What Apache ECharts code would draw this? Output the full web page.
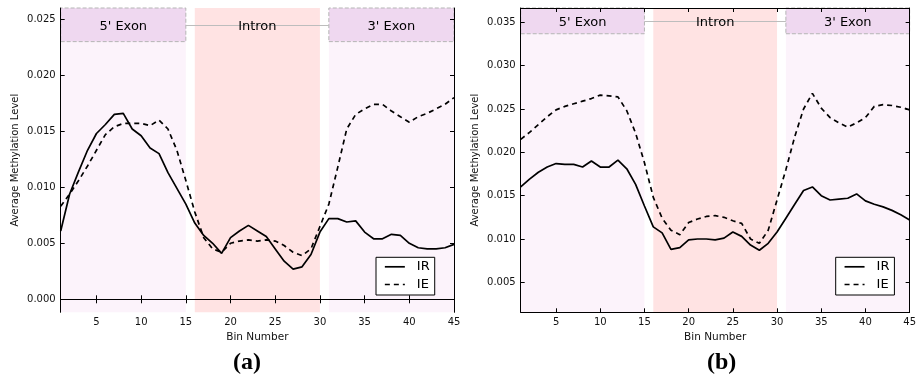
<!DOCTYPE html>
<html><head><meta charset="utf-8">
<script src="https://cdn.jsdelivr.net/npm/echarts@6/dist/echarts.min.js"></script>
<style>html,body{margin:0;padding:0;background:#fff}#c{width:919px;height:378px}</style>
</head><body><div id="c"></div>
<script>
// ---- data ----
const bins = [1,2,3,4,5,6,7,8,9,10,11,12,13,14,15,16,17,18,19,20,21,22,23,24,25,26,27,28,29,30,31,32,33,34,35,36,37,38,39,40,41,42,43,44,45];
const xTicks = [5,10,15,20,25,30,35,40,45];
const yTicksA = [0.000,0.005,0.010,0.015,0.020,0.025];
const yTicksB = [0.005,0.010,0.015,0.020,0.025,0.030,0.035];
const seriesNames = ['IR','IE'];
const regionNames = ["5' Exon","Intron","3' Exon"];
const regionStart = [1,16,31];
const regionEnd = [15,30,45];

const irA = [0.0061,0.0094,0.0114,0.0133,0.0148,0.0156,0.0165,0.0166,0.0152,0.0146,0.0135,0.0130,0.0113,0.0099,0.0085,
             0.0068,0.0057,0.0050,0.0041,0.0055,0.0061,0.0066,0.0061,0.0056,0.0045,0.0034,0.0027,0.0029,0.0040,0.0060,
             0.0072,0.0072,0.0069,0.0070,0.0060,0.0054,0.0054,0.0058,0.0057,0.0050,0.0046,0.0045,0.0045,0.0046,0.0049];
const ieA = [0.0083,0.0094,0.0106,0.0119,0.0133,0.0147,0.0154,0.0157,0.0157,0.0157,0.0155,0.0160,0.0152,0.0133,0.0106,
             0.0078,0.0055,0.0045,0.0042,0.0050,0.0052,0.0053,0.0052,0.0053,0.0052,0.0048,0.0042,0.0039,0.0045,0.0065,
             0.0085,0.0118,0.0152,0.0165,0.0170,0.0174,0.0174,0.0168,0.0163,0.0158,0.0163,0.0166,0.0170,0.0174,0.0180];
const irB = [0.0160,0.0169,0.0177,0.0183,0.0187,0.0186,0.0186,0.0183,0.0190,0.0183,0.0183,0.0191,0.0181,0.0163,0.0138,
             0.0114,0.0107,0.0088,0.0090,0.0099,0.0100,0.0100,0.0099,0.0101,0.0108,0.0103,0.0093,0.0087,0.0095,0.0108,
             0.0124,0.0140,0.0156,0.0160,0.0150,0.0145,0.0146,0.0147,0.0152,0.0144,0.0140,0.0137,0.0133,0.0128,0.0122];
const ieB = [0.0215,0.0223,0.0232,0.0241,0.0249,0.0253,0.0256,0.0259,0.0262,0.0266,0.0265,0.0264,0.0248,0.0222,0.0188,
             0.0148,0.0124,0.0110,0.0105,0.0119,0.0123,0.0126,0.0127,0.0125,0.0121,0.0118,0.0100,0.0095,0.0110,0.0145,
             0.0180,0.0218,0.0250,0.0268,0.0251,0.0240,0.0234,0.0229,0.0234,0.0240,0.0253,0.0255,0.0254,0.0252,0.0249];

// ---- layout / style ----
const FONT = 'DejaVu Sans';
const panels = [
  {ir: irA, ie: ieA, yMin: -0.00116, yMax: 0.026, yTicks: yTicksA, headLow: 0.0230, left: 60.7, legendLeft: 376, tag: '(a)', tagX: 242},
  {ir: irB, ie: ieB, yMin: 0.00154, yMax: 0.03665, yTicks: yTicksB, headLow: 0.03368, left: 520.7, legendLeft: 835.7, tag: '(b)', tagX: 716.7}
];
const exonBg = '#fcf3fb', intronBg = '#ffe3e3', headFill = '#efd8f0';

const grid = [], xAxis = [], yAxis = [], series = [], legend = [], title = [];
panels.forEach((p, k) => {
  grid.push({left: p.left, top: 8, width: 393.3, height: 304.3});
  const baseAxis = {
    axisLine: {lineStyle: {color: '#000', width: 1}},
    splitLine: {show: false}, z: 10
  };
  ['bottom', 'top'].forEach(pos => {
    xAxis.push(Object.assign({}, baseAxis, {
      type: 'value', gridIndex: k, min: 1, max: 45, position: pos,
      axisTick: {inside: true, length: 4, customValues: xTicks, lineStyle: {color: '#000'}},
      axisLabel: {show: pos === 'bottom', customValues: xTicks, margin: 5, fontFamily: FONT, fontSize: 10, color: '#111'},
      name: pos === 'bottom' ? 'Bin Number' : '', nameLocation: 'middle', nameGap: 18,
      nameTextStyle: {fontFamily: FONT, fontSize: 10.5, color: '#111'}
    }));
  });
  ['left', 'right'].forEach(pos => {
    yAxis.push(Object.assign({}, baseAxis, {
      type: 'value', gridIndex: k, min: p.yMin, max: p.yMax, position: pos,
      axisTick: {inside: true, length: 4, customValues: p.yTicks, lineStyle: {color: '#000'}},
      axisLabel: {show: pos === 'left', customValues: p.yTicks, margin: 5, fontFamily: FONT, fontSize: 10, color: '#111',
                  formatter: v => v.toFixed(3)},
      name: pos === 'left' ? 'Average Methylation Level' : '', nameLocation: 'middle', nameGap: 40,
      nameTextStyle: {fontFamily: FONT, fontSize: 10, color: '#111'}
    }));
  });
  const mid = (p.headLow + p.yMax) / 2;
  const areas = [];
  regionNames.forEach((nm, r) => {
    areas.push([{xAxis: regionStart[r], itemStyle: {color: r === 1 ? intronBg : exonBg, borderWidth: 0}}, {xAxis: regionEnd[r]}]);
  });
  regionNames.forEach((nm, r) => {
    const isIntron = r === 1;
    areas.push([{
      name: nm, xAxis: regionStart[r], yAxis: p.headLow,
      itemStyle: isIntron ? {color: 'rgba(0,0,0,0)', borderWidth: 0}
                          : {color: headFill, borderColor: '#b5b5b5', borderType: 'dashed', borderWidth: 1},
      label: {show: true, position: 'inside', offset: [0, 2], fontFamily: FONT, fontSize: 13, color: '#000'}
    }, {xAxis: regionEnd[r], yAxis: p.yMax}]);
  });
  const lineBase = {type: 'line', xAxisIndex: 2 * k, yAxisIndex: 2 * k, symbol: 'none', showSymbol: false, silent: true, z: 3};
  series.push(Object.assign({}, lineBase, {
    name: seriesNames[0],
    data: bins.map((b, i) => [b, p.ir[i]]),
    lineStyle: {color: '#000', width: 1.7, type: 'solid'}, itemStyle: {color: '#000'},
    markLine: {silent: true, symbol: ['none', 'none'], z: 1,
      lineStyle: {color: '#bdbdbd', type: 'solid', width: 1.2}, label: {show: false},
      data: [[{coord: [regionEnd[0], mid]}, {coord: [regionStart[2], mid]}]]},
    markArea: {silent: true, z: 1, data: areas}
  }));
  series.push(Object.assign({}, lineBase, {
    name: seriesNames[1],
    data: bins.map((b, i) => [b, p.ie[i]]),
    lineStyle: {color: '#000', width: 1.7, type: [5, 4]}, itemStyle: {color: '#000'}
  }));
  legend.push({
    data: seriesNames, left: p.legendLeft, top: 257.3, orient: 'vertical',
    itemWidth: 20, itemHeight: 14, itemGap: 4.7, padding: [3, 5, 4, 8],
    borderColor: '#000', borderWidth: 1, backgroundColor: '#fff', borderRadius: 0,
    selectedMode: false, z: 20,
    itemStyle: {color: 'rgba(0,0,0,0)', borderColor: 'rgba(0,0,0,0)', borderWidth: 0, opacity: 0},
    lineStyle: {width: 1.7},
    textStyle: {fontFamily: FONT, fontSize: 13, color: '#000', padding: [0, 0, 0, 7]}
  });
  title.push({text: p.tag, left: p.tagX, top: 346, textAlign: 'center',
    textStyle: {fontFamily: 'Liberation Serif', fontWeight: 'bold', fontSize: 24, color: '#000'}});
});

const chart = echarts.init(document.getElementById('c'), null, {renderer: 'canvas'});
chart.setOption({animation: false, backgroundColor: '#fff', grid, xAxis, yAxis, series, legend, title});
</script>
</body></html>
